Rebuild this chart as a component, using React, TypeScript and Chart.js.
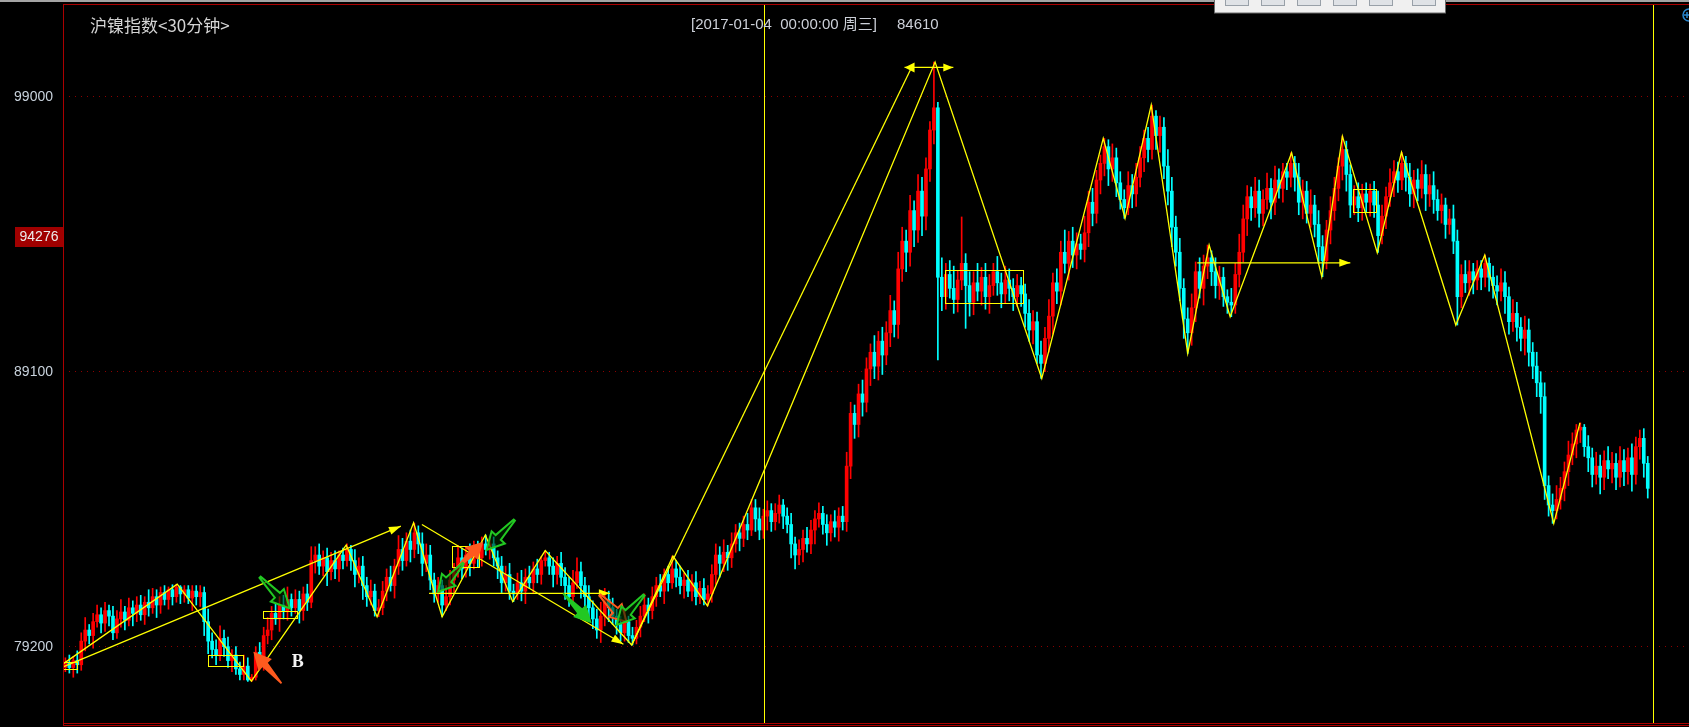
import React, { useEffect, useRef } from "react";
import { Chart, registerables } from "chart.js";

Chart.register(...registerables);

/* ======================= DATA ======================= */
const firstOpen = 78450;

// 30-minute closes (index 0..399)
const closes: number[] = [
  78600, 78450, 78700, 78550, 79400, 79800, 79600, 80100, 80350, 80050,
  80500, 80300, 79700, 80200, 80450, 80150, 80600, 80400, 80700, 80350,
  80800, 80600, 81000, 80700, 81150, 80900, 81250, 81000, 81350, 81100,
  81250, 80950, 81200, 81000, 81150, 80100, 79400, 79100, 78900, 79500,
  79200, 78700, 78900, 78400, 78200, 78500, 78000, 78100, 79000, 78800,
  79600, 79800, 80400, 80200, 80700, 80500, 80900, 80600, 80900, 80500,
  81100, 80800, 82300, 82500, 82100, 82400, 81900, 82300, 82000, 82500,
  82300, 82700, 82300, 81800, 82100, 81400, 81000, 81200, 80500, 80600,
  81200, 81700, 81400, 82100, 82700, 82300, 83000, 82700, 83300, 82900,
  82200, 82500, 81600, 81100, 81400, 80700, 81000, 81600, 81900, 82400,
  82000, 82500, 82200, 82700, 82400, 82900, 82700, 82900, 82400, 82100,
  81500, 81800, 81200, 81100, 81500, 81200, 81700, 81500, 82000, 81800,
  82300, 82400, 82100, 81800, 82200, 81700, 81400, 81000, 81500, 81900,
  81400, 81000, 80600, 80200, 79800, 80300, 80900, 80600, 80300, 80000,
  79700, 80100, 79600, 79500, 79900, 80300, 80700, 80500, 81000, 81400,
  81200, 81800, 81500, 82000, 81700, 81400, 81600, 81200, 81500, 81000,
  81300, 80900, 81100, 81800, 82500, 82200, 82600, 82400, 82900, 83300,
  83100, 83600, 83400, 84200, 83800, 83400, 83900, 84100, 83700, 84000,
  84300, 83900, 83600, 82900, 82500, 82700, 83100, 82900, 83400, 83800,
  84000, 83600, 83300, 83700, 83500, 83900, 83700, 85700, 87600, 87200,
  88300, 88000, 89200, 89800, 89300, 90200, 89700, 90500, 91300, 90800,
  92800, 93800, 93400, 94900, 94200, 95600, 94700, 96400, 97800, 98600,
  92500, 91800, 92600, 92100, 91700, 92400, 93000, 92200, 91600, 92300,
  92000, 92500, 91800, 92200, 92700, 92300, 91900, 92400, 92100, 91800,
  92200, 91900, 91200, 90600, 90900, 89700, 89400, 90300, 91100, 92300,
  92000, 93400, 93000, 93800, 93300, 93700, 93500, 94100, 95200, 94800,
  96000, 96600, 97200, 96400, 96800, 95900, 95300, 95000, 95800, 95500,
  96100, 96800, 97500, 97100, 98300, 97600, 97900, 96500, 95600, 94300,
  93400, 92100, 91000, 90500, 91400, 92700, 92100, 92900, 93200, 92700,
  92200, 92500, 91800, 91600, 91500, 92600, 93400, 94600, 95400, 95000,
  95600, 94800, 95300, 95700, 95200, 96000, 95700, 96300, 96100, 96600,
  96100, 95200, 95600, 94800, 95100, 94400, 93600, 93100, 94200, 94900,
  95700, 96500, 97100, 96200, 95100, 95400, 95000, 95500, 95200, 95600,
  95100, 94000, 94700, 95400, 95900, 96300, 96000, 96600, 96100, 95500,
  96000, 95700, 96200, 95500, 95800, 95300, 94900, 95100, 94400, 94600,
  93800, 91800, 92600, 92300, 92700, 92400, 92800, 92500, 93000, 92500,
  92200, 92000, 92300, 91800, 90900, 91200, 90700, 90300, 90600, 89800,
  89300, 88700, 88200, 85000, 84300, 84100, 84500, 84900, 85500, 86100,
  86500, 87000, 87100, 86400, 86000, 85400, 85700, 85300, 85900, 85600,
  85800, 85300, 85900, 85500, 86000, 85400, 86400, 86700, 85800, 84900,
];

// upper shadow length above the body
const wickUp: number[] = [
  200, 300, 150, 350, 300, 450, 200, 300, 350, 250,
  300, 200, 350, 300, 450, 200, 350, 250, 300, 350,
  200, 450, 300, 250, 200, 250, 100, 180, 100, 50,
  150, 150, 200, 200, 250, 200, 450, 300, 350, 450,
  300, 350, 200, 300, 250, 400, 300, 100, 200, 350,
  300, 450, 250, 350, 300, 350, 450, 200, 350, 300,
  250, 350, 500, 300, 400, 250, 350, 300, 350, 150,
  250, 200, 150, 400, 300, 350, 300, 400, 250, 300,
  350, 300, 400, 250, 500, 400, 300, 400, 350, 250,
  400, 400, 350, 250, 300, 200, 400, 350, 300, 450,
  350, 300, 400, 300, 300, 250, 320, 250, 250, 250,
  350, 300, 400, 250, 350, 450, 300, 400, 250, 350,
  150, 250, 200, 300, 250, 400, 350, 300, 450, 500,
  350, 300, 400, 250, 350, 500, 400, 300, 350, 250,
  300, 400, 200, 300, 250, 350, 400, 250, 350, 300,
  400, 200, 300, 460, 300, 400, 250, 350, 300, 400,
  250, 350, 300, 350, 400, 300, 450, 250, 400, 300,
  350, 300, 400, 300, 300, 400, 250, 350, 250, 350,
  360, 200, 300, 400, 250, 350, 300, 400, 350, 300,
  380, 250, 350, 250, 400, 300, 350, 500, 400, 300,
  350, 500, 400, 300, 600, 350, 500, 400, 550, 350,
  600, 500, 400, 550, 350, 600, 500, 400, 300, 1650,
  200, 700, 400, 500, 800, 350, 1670, 350, 500, 400,
  700, 350, 500, 400, 300, 550, 350, 500, 400, 350,
  400, 300, 350, 500, 400, 350, 500, 400, 600, 350,
  500, 400, 800, 350, 500, 400, 350, 600, 400, 500,
  350, 300, 300, 250, 500, 350, 400, 350, 500, 400,
  500, 400, 300, 400, 400, 200, 400, 350, 600, 500,
  400, 500, 350, 400, 500, 350, 500, 400, 460, 250,
  500, 400, 350, 250, 500, 400, 650, 500, 400, 350,
  500, 400, 350, 550, 350, 500, 400, 300, 300, 380,
  250, 500, 400, 350, 550, 350, 500, 400, 350, 500,
  400, 300, 480, 300, 350, 400, 500, 350, 400, 250,
  350, 500, 400, 350, 500, 400, 350, 400, 250, 500,
  350, 400, 500, 350, 400, 500, 350, 400, 250, 350,
  500, 400, 350, 500, 400, 300, 300, 300, 300, 200,
  400, 350, 500, 400, 350, 500, 400, 350, 500, 400,
  350, 500, 400, 500, 350, 400, 500, 400, 350, 500,
  400, 200, 160, 100, 400, 350, 500, 400, 350, 500,
  400, 350, 500, 400, 350, 500, 350, 300, 350, 250,
];

// lower shadow length below the body
const wickDn: number[] = [
  150, 200, 350, 300, 200, 350, 300, 450, 200, 350,
  300, 350, 250, 200, 300, 350, 200, 450, 300, 200,
  350, 300, 200, 450, 300, 200, 350, 300, 200, 350,
  300, 200, 450, 300, 350, 500, 450, 300, 350, 200,
  350, 250, 400, 200, 200, 200, 50, 50, 100, 300,
  450, 300, 350, 200, 450, 300, 350, 300, 200, 450,
  350, 300, 200, 450, 300, 350, 500, 300, 350, 450,
  300, 200, 350, 450, 300, 500, 350, 300, 200, 220,
  250, 350, 200, 450, 300, 350, 200, 450, 300, 350,
  450, 300, 350, 300, 300, 420, 200, 300, 450, 200,
  350, 300, 450, 200, 350, 300, 200, 350, 300, 450,
  350, 300, 300, 280, 200, 350, 450, 200, 350, 300,
  350, 200, 300, 450, 350, 300, 500, 350, 300, 200,
  450, 350, 500, 350, 300, 450, 350, 500, 300, 350,
  300, 300, 250, 240, 200, 350, 200, 450, 300, 350,
  200, 450, 300, 200, 350, 300, 450, 200, 350, 300,
  250, 200, 230, 300, 350, 500, 300, 450, 350, 300,
  450, 300, 350, 200, 450, 350, 300, 500, 350, 300,
  350, 450, 300, 500, 500, 350, 450, 300, 350, 500,
  300, 350, 450, 300, 350, 500, 300, 350, 450, 500,
  450, 500, 350, 600, 450, 500, 700, 350, 500, 450,
  500, 450, 700, 500, 600, 450, 700, 500, 450, 500,
  2980, 500, 450, 350, 500, 450, 350, 1540, 500, 450,
  350, 500, 450, 600, 350, 450, 500, 350, 450, 500,
  350, 450, 500, 400, 500, 300, 540, 300, 500, 650,
  450, 500, 350, 600, 450, 500, 350, 450, 500, 450,
  350, 500, 450, 600, 450, 500, 350, 380, 250, 500,
  450, 350, 500, 450, 350, 500, 600, 450, 500, 700,
  500, 450, 700, 740, 450, 500, 350, 600, 450, 500,
  450, 500, 350, 400, 420, 300, 450, 350, 600, 450,
  350, 500, 450, 350, 600, 450, 350, 500, 450, 350,
  500, 450, 600, 350, 500, 450, 600, 580, 300, 500,
  350, 450, 500, 600, 450, 350, 500, 450, 350, 500,
  450, 610, 300, 450, 350, 500, 450, 350, 500, 450,
  500, 450, 350, 600, 450, 500, 350, 450, 500, 350,
  450, 1020, 400, 350, 450, 500, 350, 450, 350, 500,
  450, 500, 350, 600, 450, 350, 500, 450, 600, 500,
  450, 500, 600, 500, 400, 460, 300, 350, 450, 500,
  350, 500, 450, 350, 500, 450, 350, 600, 450, 350,
  500, 450, 350, 500, 450, 600, 350, 450, 500, 350,
];

const yTicks = [79200, 89100, 99000];
const yMin = 76453;
const yMax = 102301;
const xMin = -0.6;
const xMax = 409.4;

// zig-zag pivots [bar index, price]
const zigzagPivots: [number, number][] = [
  [-0.4, 78600], [28.2, 81450], [46.9, 77960], [70.8, 82860], [78.6, 80280],
  [87.8, 83660], [95.0, 80280], [105.9, 83220], [112.8, 80820], [121.0, 82660],
  [142.8, 79260], [153.2, 82460], [161.9, 80670], [219.3, 100250], [246.2, 88860],
  [261.7, 97500], [267.2, 94620], [273.8, 98700], [283.0, 89760], [288.4, 93660],
  [293.7, 91080], [309.2, 96980], [316.8, 92520], [322.0, 97580], [330.8, 93380],
  [336.9, 97000], [350.6, 90780], [357.9, 93300], [375.3, 83640], [381.9, 87260],
];
const upTrend: [number, number][] = [[-0.4, 78480], [84.6, 83540]];
const downTrend: [number, number][] = [[89.9, 83600], [140.7, 79290]];
const neckline: [number, number][] = [[91.7, 81120], [137.3, 81120]];
const breakoutLine: [number, number][] = [[142.8, 79260], [213.3, 100030]];
const topRange: [number, number][] = [[211.6, 100055], [223.9, 100055]];
const resistance: [number, number][] = [[285.4, 93020], [324.0, 93020]];

// range boxes [index from, index to, price top, price bottom]
const rangeBoxes: [number, number, number, number][] = [
  [-0.5, 2.85, 78640, 78390],
  [36.0, 44.9, 78890, 78520],
  [49.9, 58.3, 80490, 80220],
  [97.5, 104.4, 82830, 82060],
  [221.7, 241.5, 92760, 91560],
  [324.7, 330.6, 95670, 94840],
];

// signal arrows: tail / head in [index, price]
const arrowTails: [number, number][] = [
  [49.1, 81700], [54.5, 77880], [98.2, 81960], [100.3, 82200],
  [113.2, 83760], [125.5, 81120], [134.8, 81060], [145.9, 81060],
];
const arrowHeads: [number, number][] = [
  [56.6, 80580], [47.4, 79020], [105.4, 82980], [94.0, 81180],
  [106.2, 82680], [132.7, 80040], [141.5, 80100], [139.0, 79980],
];
const arrowKinds = [
  "greenHollow", "orangeSolid", "orangeSolid", "greenHollow",
  "greenHollow", "greenSolid", "orangeHollow", "greenHollow",
];
const signalLabels = [{ text: "B", i: 58.6, v: 78650 }];

const cursorIndex = [176.2, 400.3];
const cursorValue = 94276;
const titleText = "沪镍指数<30分钟>";
const dateText = "[2017-01-04  00:00:00 周三]";
const priceText = "84610";

/* ======================= STYLE ======================= */
const UP = "#ff0000";
const DOWN = "#00ffff";
const YELLOW = "#ffff00";
const FRAME_RED = "#aa0000";
const GRID_RED = "#8c0000";
const ARROW_STYLES: Record<string, { color: string; fill: boolean }> = {
  greenHollow: { color: "#22c822", fill: false },
  greenSolid: { color: "#22c822", fill: true },
  orangeSolid: { color: "#ff5a1e", fill: true },
  orangeHollow: { color: "#ff5a1e", fill: false },
};

function arrowHead(ctx: CanvasRenderingContext2D, fx: number, fy: number, tx: number, ty: number, len: number, half: number) {
  const a = Math.atan2(ty - fy, tx - fx);
  const c = Math.cos(a), s = Math.sin(a);
  ctx.beginPath();
  ctx.moveTo(tx, ty);
  ctx.lineTo(tx - len * c + half * s, ty - len * s - half * c);
  ctx.lineTo(tx - len * c - half * s, ty - len * s + half * c);
  ctx.closePath();
  ctx.fill();
}

function fatArrowPath(ctx: CanvasRenderingContext2D, tx: number, ty: number, hx: number, hy: number) {
  const dx = hx - tx, dy = hy - ty;
  const L = Math.hypot(dx, dy);
  const ux = dx / L, uy = dy / L, nx = -uy, ny = ux;
  const headLen = L * 0.42, headW = 9, shaftW = 3.5, tailW = 0.8;
  const bx = hx - ux * headLen, by = hy - uy * headLen;
  const pts = [
    [tx + nx * tailW, ty + ny * tailW],
    [bx + nx * shaftW, by + ny * shaftW],
    [bx + nx * headW, by + ny * headW],
    [hx, hy],
    [bx - nx * headW, by - ny * headW],
    [bx - nx * shaftW, by - ny * shaftW],
    [tx - nx * tailW, ty - ny * tailW],
  ];
  ctx.beginPath();
  pts.forEach(([x, y], k) => (k ? ctx.lineTo(x, y) : ctx.moveTo(x, y)));
  ctx.closePath();
}

const overlayPlugin = {
  id: "overlay",
  afterDatasetsDraw(chart: any) {
    const ctx: CanvasRenderingContext2D = chart.ctx;
    const ca = chart.chartArea;
    const xs = chart.scales.x, ys = chart.scales.y;
    const px = (i: number) => xs.getPixelForValue(i);
    const py = (v: number) => ys.getPixelForValue(v);
    const W = chart.width;
    ctx.save();

    // cursor vertical lines
    ctx.fillStyle = YELLOW;
    cursorIndex.forEach((i) => ctx.fillRect(Math.round(px(i)), ca.top, 1, ca.bottom - ca.top));

    // range boxes
    ctx.strokeStyle = YELLOW;
    ctx.lineWidth = 1;
    rangeBoxes.forEach(([i0, i1, vt, vb]) => {
      const x0 = Math.round(px(i0)) + 0.5, x1 = Math.round(px(i1)) + 0.5;
      const y0 = Math.round(py(vt)) + 0.5, y1 = Math.round(py(vb)) + 0.5;
      ctx.strokeRect(x0, y0, x1 - x0, y1 - y0);
    });

    // arrow heads on yellow lines
    ctx.fillStyle = YELLOW;
    const endHead = (pts: [number, number][], len: number, half: number) => {
      const a = pts[pts.length - 2], b = pts[pts.length - 1];
      arrowHead(ctx, px(a[0]), py(a[1]), px(b[0]), py(b[1]), len, half);
    };
    const startHead = (pts: [number, number][], len: number, half: number) => {
      const a = pts[1], b = pts[0];
      arrowHead(ctx, px(a[0]), py(a[1]), px(b[0]), py(b[1]), len, half);
    };
    endHead(upTrend, 12, 4);
    endHead(downTrend, 12, 4);
    endHead(neckline, 11, 4);
    endHead(topRange, 10, 4);
    startHead(topRange, 10, 5);
    endHead(resistance, 11, 4);

    // signal arrows
    arrowTails.forEach((t, k) => {
      const h = arrowHeads[k];
      const st = ARROW_STYLES[arrowKinds[k]];
      fatArrowPath(ctx, px(t[0]), py(t[1]), px(h[0]), py(h[1]));
      if (st.fill) {
        ctx.fillStyle = st.color;
        ctx.fill();
      } else {
        ctx.fillStyle = "rgba(0,40,0,0.6)";
        ctx.fill();
        ctx.strokeStyle = st.color;
        ctx.lineWidth = 2;
        ctx.stroke();
      }
    });

    // signal label
    ctx.font = 'bold 18px "Liberation Serif"';
    ctx.fillStyle = "#f4f4f4";
    ctx.textAlign = "center";
    ctx.textBaseline = "middle";
    signalLabels.forEach((s) => ctx.fillText(s.text, px(s.i), py(s.v)));

    // price axis labels
    ctx.font = '14px "Liberation Sans"';
    ctx.fillStyle = "#c8d2dc";
    ctx.textAlign = "right";
    yTicks.forEach((v) => ctx.fillText(String(v), 53, py(v)));

    // cursor price label
    const cy = Math.round(py(cursorValue)) - 1;
    ctx.fillStyle = "#a00000";
    ctx.fillRect(15, cy, 48, 20);
    ctx.fillStyle = "#ececec";
    ctx.textAlign = "center";
    ctx.fillText(String(cursorValue), 39, cy + 10);

    // frame
    ctx.fillStyle = "#a4a4a4";
    ctx.fillRect(0, 0, W, 2);
    ctx.fillStyle = FRAME_RED;
    ctx.fillRect(63, 4, W - 63, 1);
    ctx.fillRect(63, 4, 1, 722);
    ctx.fillRect(63, 723, W - 63, 1);
    ctx.fillRect(63, 725, W - 63, 1);

    // header texts
    ctx.textAlign = "left";
    ctx.textBaseline = "middle";
    ctx.fillStyle = "#d4d4d4";
    ctx.font = '17px "Noto Sans CJK SC"';
    ctx.fillText(titleText, 90, 26);
    ctx.font = '15px "Liberation Sans", "Noto Sans CJK SC"';
    ctx.fillStyle = "#ccd0d8";
    ctx.fillText(dateText, 691, 25);
    ctx.fillText(priceText, 897, 25);

    // floating toolbar (window chrome)
    ctx.fillStyle = "#f0f0f0";
    ctx.fillRect(1214, 0, 232, 13);
    ctx.strokeStyle = "#6c6c6c";
    ctx.lineWidth = 1;
    ctx.strokeRect(1214.5, -1, 231, 14);
    [1225, 1261, 1297, 1333, 1369, 1412].forEach((bx) => {
      ctx.fillStyle = "#dfe2e6";
      ctx.fillRect(bx, -2, 24, 8);
      ctx.strokeStyle = "#98a0a8";
      ctx.strokeRect(bx + 0.5, -2.5, 23, 8);
    });

    // zoom icon at the right edge
    ctx.strokeStyle = "#2a88d0";
    ctx.lineWidth = 1.5;
    ctx.beginPath();
    ctx.arc(1689, 15, 6, 0, Math.PI * 2);
    ctx.stroke();
    ctx.beginPath();
    ctx.moveTo(1684, 15);
    ctx.lineTo(1689, 15);
    ctx.moveTo(1687, 12);
    ctx.lineTo(1687, 18);
    ctx.stroke();

    ctx.restore();
  },
};

export default function App() {
  const ref = useRef<HTMLCanvasElement>(null);

  useEffect(() => {
    const canvas = ref.current;
    if (!canvas) return;
    const opens = closes.map((c, i) => (i === 0 ? firstOpen : closes[i - 1]));
    const highs = closes.map((c, i) => Math.max(opens[i], c) + wickUp[i]);
    const lows = closes.map((c, i) => Math.min(opens[i], c) - wickDn[i]);
    const colors = closes.map((c, i) => (c >= opens[i] ? UP : DOWN));
    const idx = closes.map((_, i) => i);

    const lineDs = (pts: [number, number][], label: string) => ({
      type: "line" as const,
      label,
      data: pts.map(([x, y]) => ({ x, y })),
      borderColor: YELLOW,
      borderWidth: 1.3,
      pointRadius: 0,
      tension: 0,
      order: 0,
    });

    const chart = new Chart(canvas, {
      type: "bar",
      data: {
        datasets: [
          {
            type: "bar",
            label: "shadow",
            data: idx.map((i) => ({ x: i, y: [lows[i], highs[i]] })) as any,
            backgroundColor: colors,
            barThickness: 1,
            grouped: false,
            borderWidth: 0,
            order: 3,
          },
          {
            type: "bar",
            label: "body",
            data: idx.map((i) => ({ x: i, y: [opens[i], closes[i]] })) as any,
            backgroundColor: colors,
            barThickness: 3,
            grouped: false,
            borderWidth: 0,
            minBarLength: 1,
            order: 2,
          },
          lineDs(zigzagPivots, "zigzag") as any,
          lineDs(upTrend, "upTrend") as any,
          lineDs(downTrend, "downTrend") as any,
          lineDs(neckline, "neckline") as any,
          lineDs(breakoutLine, "breakout") as any,
          lineDs(topRange, "topRange") as any,
          lineDs(resistance, "resistance") as any,
        ],
      },
      options: {
        animation: false,
        responsive: false,
        devicePixelRatio: 1,
        events: [],
        layout: { padding: { top: 5, bottom: 4, left: 0, right: 0 } },
        plugins: { legend: { display: false }, tooltip: { enabled: false } },
        scales: {
          x: { type: "linear", min: xMin, max: xMax, offset: false, display: false },
          y: {
            type: "linear",
            position: "left",
            min: yMin,
            max: yMax,
            afterBuildTicks: (s: any) => {
              s.ticks = yTicks.map((v) => ({ value: v }));
            },
            afterFit: (s: any) => {
              s.width = 63;
            },
            ticks: { display: false },
            grid: { color: GRID_RED, lineWidth: 1, drawTicks: false },
            border: { display: false, dash: [1, 5] },
          },
        },
      } as any,
      plugins: [overlayPlugin],
    });
    return () => chart.destroy();
  }, []);

  return (
    <div style={{ position: "fixed", left: 0, top: 0, width: 1689, height: 727, background: "#000" }}>
      <canvas ref={ref} width={1689} height={727} style={{ display: "block" }} />
    </div>
  );
}
